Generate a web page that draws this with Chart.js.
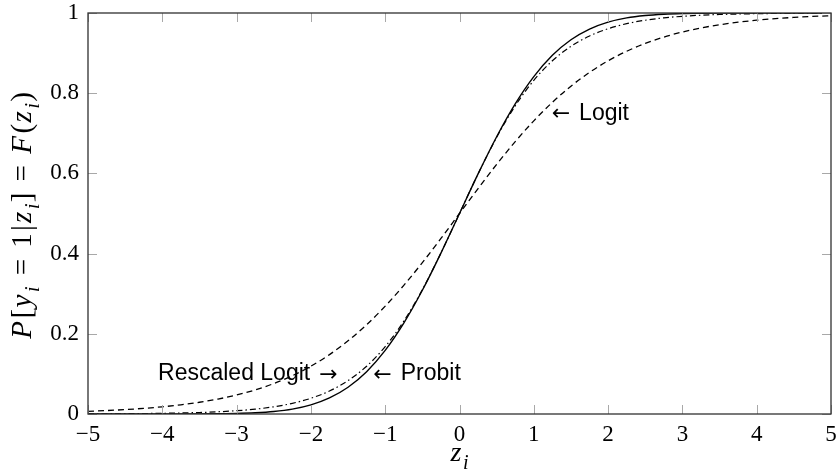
<!DOCTYPE html>
<html>
<head>
<meta charset="utf-8">
<script src="https://cdn.jsdelivr.net/npm/chart.js@4.4.0/dist/chart.umd.min.js"></script>
<style>
  html, body { margin: 0; padding: 0; background: #ffffff; }
  #wrap { width: 839px; height: 473px; position: relative; }
</style>
</head>
<body>
<div id="wrap"><canvas id="c" width="839" height="473"></canvas></div>
<script>
// ---- data ----
const zValues = [-5,-4.75,-4.5,-4.25,-4,-3.75,-3.5,-3.25,-3,-2.75,-2.5,-2.25,-2,-1.75,-1.5,-1.25,-1,-0.75,-0.5,-0.25,0,
                 0.25,0.5,0.75,1,1.25,1.5,1.75,2,2.25,2.5,2.75,3,3.25,3.5,3.75,4,4.25,4.5,4.75,5];
const probit = [0,0,0,0,0,0.0001,0.0002,0.0006,0.0013,0.003,0.0062,0.0122,0.0228,0.0401,0.0668,0.1056,0.1587,0.2266,0.3085,0.4013,0.5,
                0.5987,0.6915,0.7734,0.8413,0.8944,0.9332,0.9599,0.9772,0.9878,0.9938,0.997,0.9987,0.9994,0.9998,0.9999,1,1,1,1,1];
const logit = [0.0067,0.0086,0.011,0.0141,0.018,0.023,0.0293,0.0373,0.0474,0.0601,0.0759,0.0954,0.1192,0.1481,0.1824,0.2227,0.2689,0.3208,0.3775,0.4378,0.5,
               0.5622,0.6225,0.6792,0.7311,0.7773,0.8176,0.8519,0.8808,0.9046,0.9241,0.9399,0.9526,0.9627,0.9707,0.977,0.982,0.9859,0.989,0.9914,0.9933];
const rescaledLogit = [0.0003,0.0005,0.0007,0.0011,0.0017,0.0025,0.0037,0.0055,0.0082,0.0121,0.018,0.0266,0.0392,0.0573,0.0832,0.1192,0.168,0.2315,0.31,0.4013,0.5,
                       0.5987,0.69,0.7685,0.832,0.8808,0.9168,0.9427,0.9608,0.9734,0.982,0.9879,0.9918,0.9945,0.9963,0.9975,0.9983,0.9989,0.9993,0.9995,0.9997];
const xTicks = [-5,-4,-3,-2,-1,0,1,2,3,4,5];
const yTicks = [0,0.2,0.4,0.6,0.8,1];
const seriesNames = ['Probit','Logit','Rescaled Logit'];
// annotation labels and their anchor points (data coordinates)
const noteLabels = ['Logit','Rescaled Logit','Probit'];
const noteX = [1.2,-1.6,-1.2];
const noteY = [0.75,0.1,0.1];
const noteSide = ['west','east','west'];

const toPts = (ys) => zValues.map((z, i) => ({x: z, y: ys[i]}));

const SERIF = '"Liberation Serif", "DejaVu Serif", serif';
const SANS = '"Liberation Sans", "DejaVu Sans", sans-serif';
const ARROWF = '"DejaVu Sans", sans-serif';

function drawMath(ctx, parts, size, extra) {
  // parts: [text, kind, gapAfter] kind: 'i' italic, 'r' roman, 's' subscript italic
  const fontFor = (k) => k === 's' ? `italic ${Math.round(size*0.7)}px ${SERIF}` : (k === 'i' ? `italic ${size}px ${SERIF}` : `${size}px ${SERIF}`);
  const adv = (t, k, g) => { ctx.font = fontFor(k); return ctx.measureText(t).width + (k === 'i' ? 1.5 : 0) + (g || 0) + extra; };
  let total = -extra;
  parts.forEach(([t,k,g]) => { total += adv(t,k,g); });
  let x = -total/2;
  ctx.textBaseline = 'alphabetic';
  ctx.textAlign = 'left';
  parts.forEach(([t,k,g]) => {
    ctx.font = fontFor(k);
    ctx.fillText(t, x, k === 's' ? size*0.28 : 0);
    x += adv(t,k,g);
  });
}

const framePlugin = {
  id: 'frame',
  afterDatasetsDraw(chart) {
    const {ctx, chartArea: a, scales: {x, y}} = chart;
    ctx.save();
    // inward ticks
    ctx.strokeStyle = '#a8a8a8';
    ctx.lineWidth = 1;
    const TL = 9;
    xTicks.forEach(v => {
      const px = Math.round(x.getPixelForValue(v)) + 0.5;
      ctx.beginPath();
      ctx.moveTo(px, a.bottom); ctx.lineTo(px, a.bottom - TL);
      ctx.moveTo(px, a.top); ctx.lineTo(px, a.top + TL);
      ctx.stroke();
    });
    yTicks.forEach(v => {
      const py = Math.round(y.getPixelForValue(v)) + 0.5;
      ctx.beginPath();
      ctx.moveTo(a.left, py); ctx.lineTo(a.left + TL, py);
      ctx.moveTo(a.right, py); ctx.lineTo(a.right - TL, py);
      ctx.stroke();
    });
    // frame
    ctx.strokeStyle = '#303030';
    ctx.lineWidth = 1.3;
    ctx.strokeRect(a.left, a.top, a.right - a.left, a.bottom - a.top);

    // annotations: label with arrow
    ctx.fillStyle = '#000';
    ctx.textBaseline = 'middle';
    noteLabels.forEach((t, i) => {
      const px = x.getPixelForValue(noteX[i]);
      const py = y.getPixelForValue(noteY[i]);
      ctx.font = `23px ${SANS}`;
      const tw = ctx.measureText(t).width;
      ctx.font = `22px ${ARROWF}`;
      const aw = ctx.measureText('\u2190').width;
      const gap = 9;
      ctx.textAlign = 'left';
      if (noteSide[i] === 'west') {
        const x0 = px + 3;
        ctx.font = `22px ${ARROWF}`;
        ctx.fillText('\u2190', x0, py + 1);
        ctx.font = `23px ${SANS}`;
        ctx.fillText(t, x0 + aw + gap, py);
      } else {
        const x1 = px - 3;
        ctx.font = `22px ${ARROWF}`;
        ctx.fillText('\u2192', x1 - aw, py + 1);
        ctx.font = `23px ${SANS}`;
        ctx.fillText(t, x1 - aw - gap - tw, py);
      }
    });

    // axis titles
    ctx.fillStyle = '#000';
    ctx.save();
    ctx.translate((a.left + a.right) / 2, 461);
    drawMath(ctx, [['z','i'],['i','s']], 28, 0);
    ctx.restore();
    ctx.save();
    ctx.translate(31, (a.top + a.bottom) / 2 + 2);
    ctx.rotate(-Math.PI / 2);
    drawMath(ctx, [['P','i'],['[','r'],['y','i'],['i','s',10],['=','r',10],['1','r',1],['|','r',1],['z','i'],['i','s'],[']','r',10],['=','r',10],['F','i'],['(','r'],['z','i'],['i','s'],[')','r']], 29, 1.2);
    ctx.restore();
    ctx.restore();
  }
};

const fmtX = (v) => v < 0 ? '\u2212' + Math.abs(v) : String(v);
const fmtY = (v) => String(Math.round(v * 10) / 10);

new Chart(document.getElementById('c'), {
  type: 'line',
  data: {
    datasets: [
      { label: seriesNames[0], data: toPts(probit), borderColor: '#000', borderWidth: 1.4, pointRadius: 0, cubicInterpolationMode: 'monotone', fill: false },
      { label: seriesNames[1], data: toPts(logit), borderColor: '#000', borderWidth: 1.3, borderDash: [6, 4], pointRadius: 0, cubicInterpolationMode: 'monotone', fill: false },
      { label: seriesNames[2], data: toPts(rescaledLogit), borderColor: '#000', borderWidth: 1.2, borderDash: [6, 3, 1.5, 3], pointRadius: 0, cubicInterpolationMode: 'monotone', fill: false }
    ]
  },
  options: {
    responsive: false,
    animation: false,
    devicePixelRatio: 1,
    layout: { padding: { top: 13, right: 8, left: 0, bottom: 0 } },
    plugins: { legend: { display: false }, tooltip: { enabled: false } },
    scales: {
      x: {
        type: 'linear', min: -5, max: 5,
        afterFit(s) { s.height = 59; s.paddingLeft = 0; s.paddingRight = 0; },
        afterBuildTicks(s) { s.ticks = xTicks.map(v => ({value: v})); },
        grid: { display: false, drawTicks: false },
        border: { display: false },
        ticks: { color: '#000', padding: 7, maxRotation: 0, autoSkip: false, font: { family: SERIF, size: 23 }, callback: fmtX }
      },
      y: {
        type: 'linear', min: 0, max: 1,
        afterFit(s) { s.width = 88; s.paddingTop = 0; s.paddingBottom = 0; },
        afterBuildTicks(s) { s.ticks = yTicks.map(v => ({value: v})); },
        grid: { display: false, drawTicks: false },
        border: { display: false },
        ticks: { color: '#000', padding: 9, autoSkip: false, font: { family: SERIF, size: 23 }, callback: fmtY }
      }
    }
  },
  plugins: [framePlugin]
});
</script>
</body>
</html>
